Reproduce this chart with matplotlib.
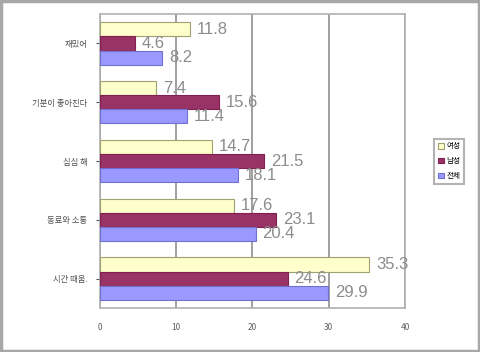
import matplotlib
matplotlib.use('Agg')
import matplotlib.pyplot as plt
import numpy as np
from matplotlib.patches import Rectangle

plt.rcParams['font.family'] = ['Noto Sans CJK KR', 'DejaVu Sans']

categories = ['재밌어', '기분이 좋아진다', '심심 해', '동료와 소통', '시간 때움.']
series_names = ['여성', '남성', '전체']
female = [11.8, 7.4, 14.7, 17.6, 35.3]
male = [4.6, 15.6, 21.5, 23.1, 24.6]
total = [8.2, 11.4, 18.1, 20.4, 29.9]
colors = ['#FFFFCC', '#993366', '#9999FF']
edges = ['#A0A070', '#802050', '#7070D0']
xticks = [0, 10, 20, 30, 40]

fig = plt.figure(figsize=(4.8, 3.52), dpi=100)
ax = fig.add_axes([0.208, 0.125, 0.636, 0.835])

y = np.arange(len(categories))
h = 0.24
for i, (vals, c, e, name) in enumerate(zip([female, male, total], colors, edges, series_names)):
    pos = y + (i - 1) * h
    ax.barh(pos, vals, height=h, color=c, edgecolor=e, linewidth=0.8, label=name, zorder=3)
    for p, v in zip(pos, vals):
        ax.text(v + 0.9, p, f'{v}', va='center', ha='left', fontsize=12,
                color='#8c8c8c', family='Liberation Sans', zorder=4)

ax.set_ylim(len(categories) - 0.5, -0.5)
ax.set_xlim(0, 40)
ax.set_xticks(xticks)
ax.set_xticklabels([str(t) for t in xticks])
ax.set_yticks(y)
ax.set_yticklabels(categories)
ax.tick_params(axis='x', labelsize=6, colors='#606060', length=0, pad=11)
ax.tick_params(axis='y', labelsize=6, colors='#505050', length=3, pad=6)
ax.grid(axis='x', color='#909090', linewidth=1.2, zorder=0)
for s in ax.spines.values():
    s.set_color('#b0b0b0')
    s.set_linewidth(1.2)

handles, labels = ax.get_legend_handles_labels()
leg = fig.legend(handles, labels, loc='center', bbox_to_anchor=(0.936, 0.542),
                 fontsize=5.5, frameon=True, fancybox=False, handlelength=0.8,
                 handleheight=0.8, handletextpad=0.3, borderpad=0.5, labelspacing=0.9)
leg.get_frame().set_edgecolor('#a0a0a0')
leg.get_frame().set_linewidth(1.5)

fig.patches.append(Rectangle((0.003, 0.003), 0.994, 0.994, transform=fig.transFigure,
                             fill=False, edgecolor='#a8a8a8', linewidth=2.5))

fig.savefig('out.png', dpi=100)
